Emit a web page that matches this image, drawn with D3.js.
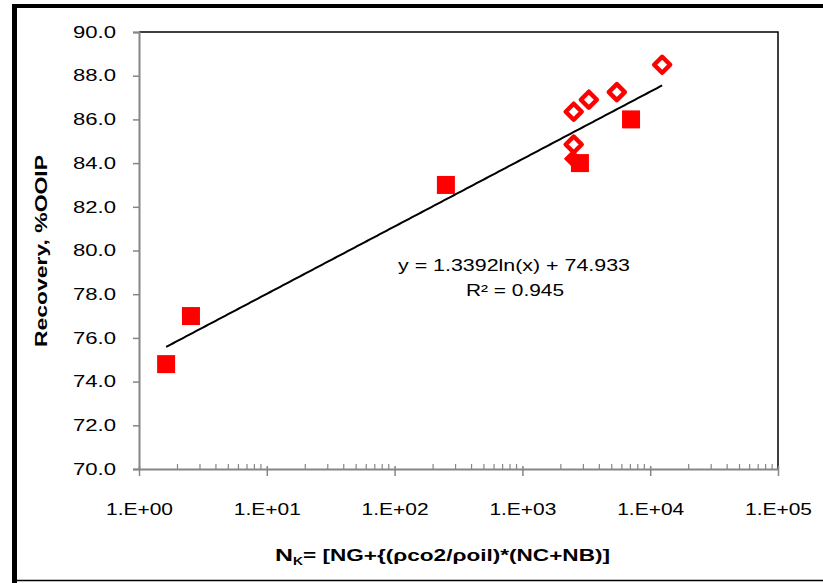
<!DOCTYPE html>
<html><head><meta charset="utf-8">
<script src="https://cdn.jsdelivr.net/npm/d3@7/dist/d3.min.js"></script>
<style>body{margin:0;background:#fff}svg{display:block;font-family:"Liberation Sans",Arial,sans-serif}</style>
</head><body><svg id="c" width="823" height="583"></svg>
<script>
// Data
const squareX = [1.63, 2.55, 252, 2820, 7080];
const squareY = [74.8, 77.0, 83.0, 84.0, 86.0];
const hiddenX = [2480];
const hiddenY = [84.2];
const diamondX = [2520, 3310, 5480, 12400, 2520];
const diamondY = [86.35, 86.9, 87.25, 88.5, 84.85];
const trendCoef = [1.3392, 74.933]; // y = a ln(x) + b
const trendRange = [1.63, 12400];
const xTicks = [1, 10, 100, 1000, 10000, 100000];
const xTickLabels = ["1.E+00","1.E+01","1.E+02","1.E+03","1.E+04","1.E+05"];
const yTicks = [70,72,74,76,78,80,82,84,86,88,90];

const svg = d3.select("#c");
const L = 139, R = 778, T = 32, B = 469;
const x = d3.scaleLog().domain([1, 100000]).range([L, R]);
const y = d3.scaleLinear().domain([70, 90]).range([B, T]);
const FS = 16.5;

// outer frame
svg.append("rect").attr("x",12).attr("y",4).attr("width",811).attr("height",4).attr("fill","#000");
svg.append("rect").attr("x",12).attr("y",4).attr("width",5).attr("height",579).attr("fill","#000");
svg.append("line").attr("x1",12).attr("x2",823).attr("y1",580.5).attr("y2",580.5).attr("stroke","#000").attr("stroke-width",1.5);

// plot area border (top/right black)
svg.append("path").attr("d",`M${L},${T}H${R}V${B}`).attr("fill","none").attr("stroke","#000").attr("stroke-width",1.5);

// y axis
const gy = svg.append("g").attr("transform",`translate(${L},0)`)
  .call(d3.axisLeft(y).tickValues(yTicks).tickFormat(d3.format(".1f")).tickSize(6).tickPadding(17));
gy.select(".domain").attr("stroke","#868686").attr("stroke-width",2);
gy.selectAll(".tick line").attr("stroke","#868686").attr("stroke-width",1.5);
gy.selectAll(".tick text").attr("font-size",FS).attr("fill","#000").attr("font-family","Liberation Sans, Arial, sans-serif")
  .attr("textLength",43).attr("lengthAdjust","spacingAndGlyphs");

// x axis minor ticks (inside)
const minor = [];
for (let d = 1; d < 100000; d *= 10) for (let k = 2; k <= 9; k++) minor.push(d*k);
svg.append("g").selectAll("line").data(minor).join("line")
  .attr("x1",d=>x(d)).attr("x2",d=>x(d)).attr("y1",B-5).attr("y2",B)
  .attr("stroke","#868686").attr("stroke-width",1.2);

const gx = svg.append("g").attr("transform",`translate(0,${B})`)
  .call(d3.axisBottom(x).tickValues(xTicks).tickFormat((d,i)=>xTickLabels[i]).tickSize(7).tickPadding(27).tickSizeOuter(0));
gx.select(".domain").attr("stroke","#868686").attr("stroke-width",2);
gx.selectAll(".tick line").attr("stroke","#868686").attr("stroke-width",1.5).attr("y1",-3);
gx.selectAll(".tick text").attr("font-size",FS).attr("fill","#000").attr("font-family","Liberation Sans, Arial, sans-serif")
  .attr("textLength",67).attr("lengthAdjust","spacingAndGlyphs");

// trendline
const tx = d3.range(0, 201).map(i => Math.exp(Math.log(trendRange[0]) + i/200*(Math.log(trendRange[1])-Math.log(trendRange[0]))));
svg.append("path").datum(tx)
  .attr("d", d3.line().x(d=>x(d)).y(d=>y(trendCoef[0]*Math.log(d)+trendCoef[1])))
  .attr("fill","none").attr("stroke","#000").attr("stroke-width",2);

// hidden filled diamond
svg.append("g").selectAll("path").data(hiddenX).join("path")
  .attr("transform",(d,i)=>`translate(${x(d)},${y(hiddenY[i])})`)
  .attr("d","M0,-9L9,0L0,9L-9,0Z").attr("fill","#ff0000");

// squares
svg.append("g").selectAll("rect").data(squareX).join("rect")
  .attr("x",d=>x(d)-9).attr("y",(d,i)=>y(squareY[i])-9)
  .attr("width",18).attr("height",18).attr("fill","#ff0000");

// open diamonds
svg.append("g").selectAll("path").data(diamondX).join("path")
  .attr("transform",(d,i)=>`translate(${x(d)},${y(diamondY[i])})`)
  .attr("d","M0,-8L8,0L0,8L-8,0Z").attr("fill","#fff").attr("stroke","#ff0000").attr("stroke-width",4.5).attr("stroke-linejoin","round");

// equation
svg.append("text").attr("x",514).attr("y",271).attr("text-anchor","middle").attr("font-size",FS)
  .attr("textLength",232).attr("lengthAdjust","spacingAndGlyphs")
  .text("y = 1.3392ln(x) + 74.933");
svg.append("text").attr("x",515).attr("y",296).attr("text-anchor","middle").attr("font-size",FS)
  .attr("textLength",98).attr("lengthAdjust","spacingAndGlyphs")
  .text("R² = 0.945");

// axis titles
svg.append("text").attr("transform","translate(47,251) rotate(-90)").attr("text-anchor","middle")
  .attr("font-size",17).attr("font-weight","bold")
  .attr("textLength",192).attr("lengthAdjust","spacingAndGlyphs").text("Recovery,  %OOIP");
const xt = svg.append("text").attr("x",275).attr("y",561)
  .attr("font-size",17).attr("font-weight","bold");
xt.append("tspan").attr("textLength",18).attr("lengthAdjust","spacingAndGlyphs").text("N");
xt.append("tspan").attr("font-size",11.5).attr("dy",4).attr("textLength",10).attr("lengthAdjust","spacingAndGlyphs").text("K");
xt.append("tspan").attr("dy",-4).attr("textLength",307).attr("lengthAdjust","spacingAndGlyphs").text("= [NG+{(ρco2/ρoil)*(NC+NB)]");
</script></body></html>
